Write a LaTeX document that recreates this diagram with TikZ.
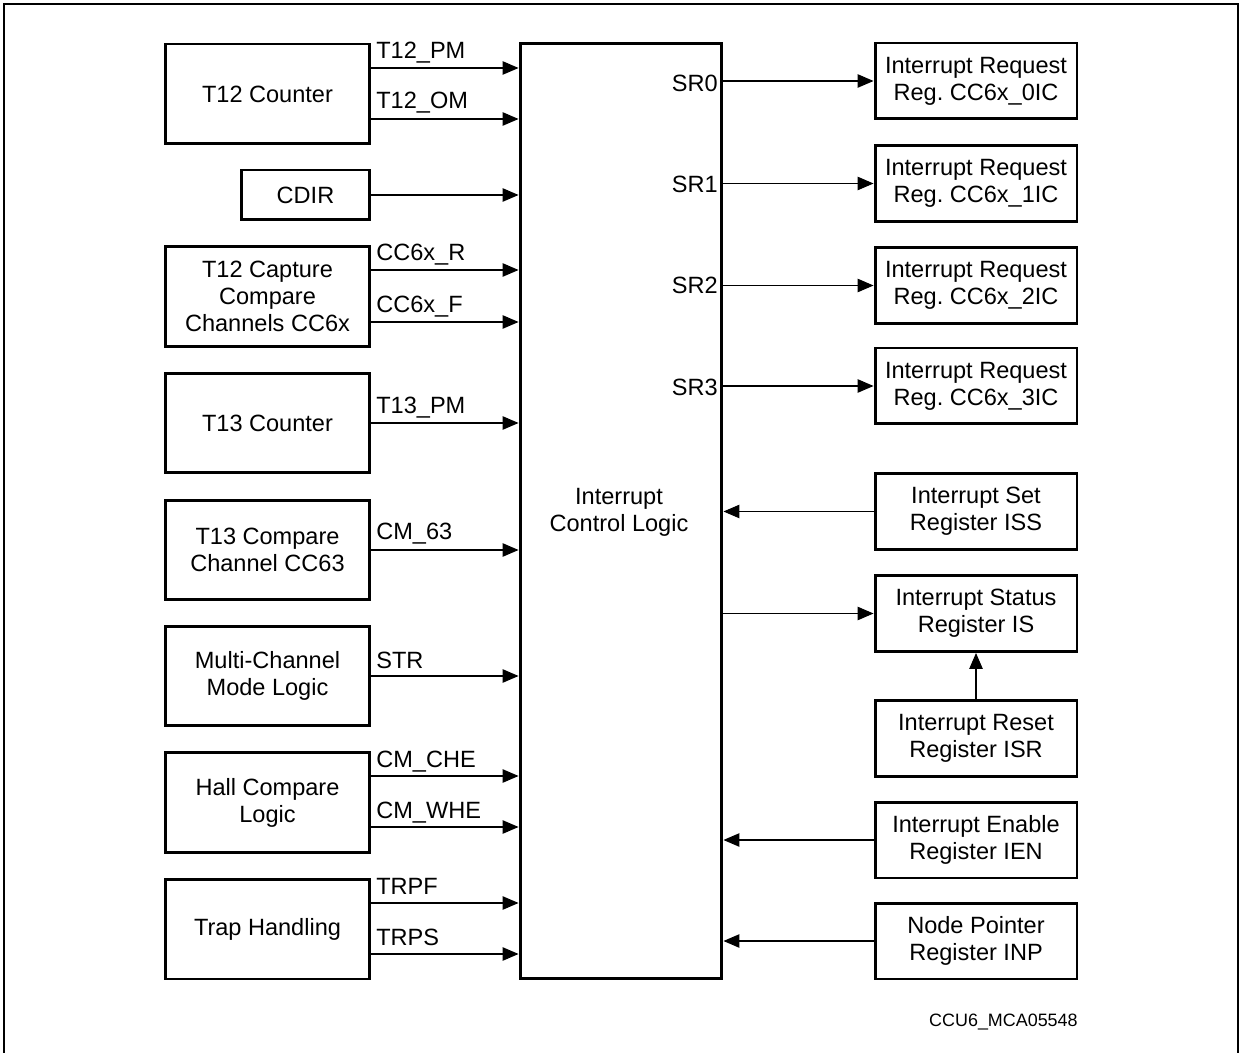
\documentclass[tikz,border=0pt]{standalone}
\usepackage{fontspec}
\setmainfont{Liberation Sans}
\usetikzlibrary{arrows.meta}
\frenchspacing
\begin{document}
\begin{tikzpicture}[x=0.02cm,y=-0.02cm,
  txt/.style={font=\fontsize{13.4}{15.3}\selectfont},
  box/.style={draw,line width=1.7pt,align=center,inner sep=0pt,txt},
  lbox/.style={box,minimum width=4.1cm,minimum height=2.0cm},
  rbox/.style={box,minimum width=4.04cm,minimum height=1.52cm},
  arr/.style={line width=0.6pt,-{Triangle[length=0.32cm,width=0.27cm]}},
  sig/.style={anchor=base west,inner sep=0pt,txt},
  srl/.style={anchor=base east,inner sep=0pt,txt}
]
\useasboundingbox (0,0) rectangle (1240,1053);
\draw[line width=1.1pt] (4,1053) -- (4,4) -- (1238,4) -- (1238,1053);

% left blocks
\node[lbox] (t12) at (267.5,94) {T12 Counter};
\node[box,minimum width=2.58cm,minimum height=1.0cm] (cdir) at (305.5,195) {CDIR};
\node[lbox] (cap) at (267.5,296.5) {T12 Capture\\Compare\\Channels CC6x};
\node[lbox] (t13) at (267.5,423) {T13 Counter};
\node[lbox] (t13c) at (267.5,550) {T13 Compare\\Channel CC63};
\node[lbox] (mcm) at (267.5,676) {Multi-Channel\\Mode Logic};
\node[lbox] (hall) at (267.5,802.5) {Hall Compare\\Logic};
\node[lbox] (trap) at (267.5,929) {Trap Handling};

% central block
\node[box,minimum width=4.04cm,minimum height=18.72cm] (icl) at (621,511) {};
\node[txt,align=center,inner sep=0pt] (icltext) at (619,512) {Interrupt\\Control Logic};

% right blocks
\node[rbox] (irq0) at (976,81) {Interrupt Request\\Reg. CC6x\_0IC};
\node[rbox] (irq1) at (976,183.5) {Interrupt Request\\Reg. CC6x\_1IC};
\node[rbox] (irq2) at (976,285.5) {Interrupt Request\\Reg. CC6x\_2IC};
\node[rbox] (irq3) at (976,386) {Interrupt Request\\Reg. CC6x\_3IC};
\node[rbox] (iss) at (976,511.5) {Interrupt Set\\Register ISS};
\node[rbox] (is) at (976,613.5) {Interrupt Status\\Register IS};
\node[rbox] (isr) at (976,738.5) {Interrupt Reset\\Register ISR};
\node[rbox] (ien) at (976,840) {Interrupt Enable\\Register IEN};
\node[rbox] (inp) at (976,941) {Node Pointer\\Register INP};

% left connectors
\draw[arr] (t12.east |- 0,68) -- (icl.west |- 0,68);
\draw[arr] (t12.east |- 0,119) -- (icl.west |- 0,119);
\draw[arr] (cdir.east) -- (icl.west |- cdir.east);
\draw[arr] (cap.east |- 0,270) -- (icl.west |- 0,270);
\draw[arr] (cap.east |- 0,322) -- (icl.west |- 0,322);
\draw[arr] (t13.east) -- (icl.west |- t13.east);
\draw[arr] (t13c.east) -- (icl.west |- t13c.east);
\draw[arr] (mcm.east) -- (icl.west |- mcm.east);
\draw[arr] (hall.east |- 0,776) -- (icl.west |- 0,776);
\draw[arr] (hall.east |- 0,827) -- (icl.west |- 0,827);
\draw[arr] (trap.east |- 0,903) -- (icl.west |- 0,903);
\draw[arr] (trap.east |- 0,954) -- (icl.west |- 0,954);

% signal labels
\node[sig] (l1) at (376,59) {T12\_PM};
\node[sig] (l2) at (376,109) {T12\_OM};
\node[sig] (l3) at (376,261) {CC6x\_R};
\node[sig] (l4) at (376,313) {CC6x\_F};
\node[sig] (l5) at (376,414) {T13\_PM};
\node[sig] (l6) at (376,540) {CM\_63};
\node[sig] (l7) at (376,668) {STR};
\node[sig] (l8) at (376,767) {CM\_CHE};
\node[sig] (l9) at (376,818) {CM\_WHE};
\node[sig] (l10) at (376,894) {TRPF};
\node[sig] (l11) at (376,945) {TRPS};

% right connectors
\draw[arr] (icl.east |- irq0.west) -- (irq0.west);
\draw[arr] (icl.east |- irq1.west) -- (irq1.west);
\draw[arr] (icl.east |- irq2.west) -- (irq2.west);
\draw[arr] (icl.east |- irq3.west) -- (irq3.west);
\draw[arr] (iss.west) -- (icl.east |- iss.west);
\draw[arr] (icl.east |- is.west) -- (is.west);
\draw[arr] (isr.north) -- (is.south);
\draw[arr] (ien.west) -- (icl.east |- ien.west);
\draw[arr] (inp.west) -- (icl.east |- inp.west);

% SR labels
\node[srl] (sr0) at (718,92) {SR0};
\node[srl] (sr1) at (718,193) {SR1};
\node[srl] (sr2) at (718,294) {SR2};
\node[srl] (sr3) at (718,396) {SR3};

% caption
\node[anchor=base east,inner sep=0pt,font=\fontsize{10.2}{12}\selectfont] (cap0) at (1078,1026) {CCU6\_MCA05548};
\end{tikzpicture}
\end{document}
